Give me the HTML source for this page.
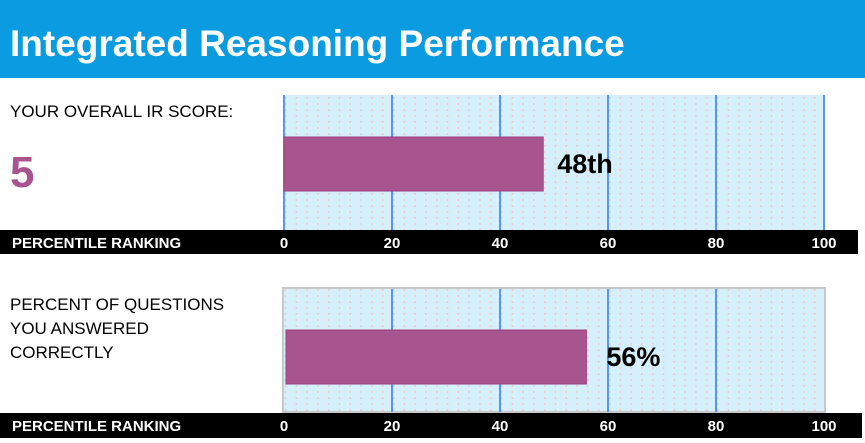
<!DOCTYPE html>
<html><head><meta charset="utf-8"><style>
body{margin:0;width:865px;height:438px;overflow:hidden;background:#fff;font-family:"Liberation Sans",Arial,sans-serif}
</style></head><body>
<svg id="c" width="865" height="438" xmlns="http://www.w3.org/2000/svg" font-family="Liberation Sans, Arial, sans-serif">
<defs>
<pattern id="dots" x="0" y="0" width="10.8" height="6" patternUnits="userSpaceOnUse">
<rect x="4" y="1" width="1.5" height="2" fill="#e9c9d0"/>
</pattern>
</defs>
<rect x="0" y="0" width="865" height="78" fill="#0a9be0"/>
<text x="10" y="56" fill="#fff" font-size="37" font-weight="bold">Integrated Reasoning Performance</text>
<text x="10" y="117" font-size="17">YOUR OVERALL IR SCORE:</text>
<text x="10" y="187" font-size="44" font-weight="bold" fill="#a8548f">5</text>
<text x="10" y="310" font-size="17">PERCENT OF QUESTIONS</text>
<text x="10" y="334" font-size="17">YOU ANSWERED</text>
<text x="10" y="358" font-size="17">CORRECTLY</text>
<g id="g"></g>
</svg>
<script>
const ticks=[0,20,40,60,80,100];
const categories=["IR percentile","Percent correct"];
const values=[48,56];
const valueLabels=["48th","56%"];
const NS="http://www.w3.org/2000/svg";
const x=v=>284+v*5.4;
const g=document.getElementById('g');
function mk(t,a,p){const e=document.createElementNS(NS,t);for(const k in a)e.setAttribute(k,a[k]);(p||g).appendChild(e);return e;}
const panels=[{top:95,bot:230,axisY:230,axisH:24,barY:137,barEnd:858,border:false},{top:289,bot:412,axisY:413,axisH:25,barY:330,barEnd:862,border:true}];
panels.forEach((p,i)=>{
  let r=mk('rect',{x:x(0),y:p.top,width:x(100)-x(0),height:p.bot-p.top,fill:'#d6f0fb'});
  
  
  mk('rect',{x:x(0),y:p.top,width:x(100)-x(0),height:p.bot-p.top,fill:'url(#dots)'});
  if(p.border){let b=mk('rect',{x:x(0)-1,y:p.top-1,width:x(100)-x(0)+2,height:p.bot-p.top+1,fill:'none',stroke:'#c8c8c8','stroke-width':2});
    
    }
  ticks.forEach(t=>{
    if(p.border&&(t===0||t===100))return;
    let l=mk('line',{x1:x(t),x2:x(t),y1:p.top,y2:p.bot,stroke:'#5a93f0','stroke-width':2});
    
    
  });
  let bar=mk('rect',{x:x(0)+(p.border?2:0),y:p.barY,width:x(values[i])-x(0)-(p.border?2:0),height:54,fill:'#a8558f',stroke:'#9c3f84','stroke-width':1});
  
  
  let vl=mk('text',{x:x(values[i])+(i?20:14),y:p.barY+36,'font-size':27,'font-weight':'bold',fill:'#000'});
  vl.textContent=valueLabels[i];
  
  
  let ax=mk('rect',{x:0,y:p.axisY,width:p.barEnd,height:p.axisH,fill:'#000'});
  
  
  let at=mk('text',{x:12,y:p.axisY+18,'font-size':15,'font-weight':'bold',fill:'#fff'});
  at.textContent='PERCENTILE RANKING';
  
  
  ticks.forEach(t=>{
    let tl=mk('text',{x:x(t),y:p.axisY+18,'font-size':15,'font-weight':'bold',fill:'#fff','text-anchor':'middle'});
    tl.textContent=t;
    
    
  });
});
</script>
</body></html>
